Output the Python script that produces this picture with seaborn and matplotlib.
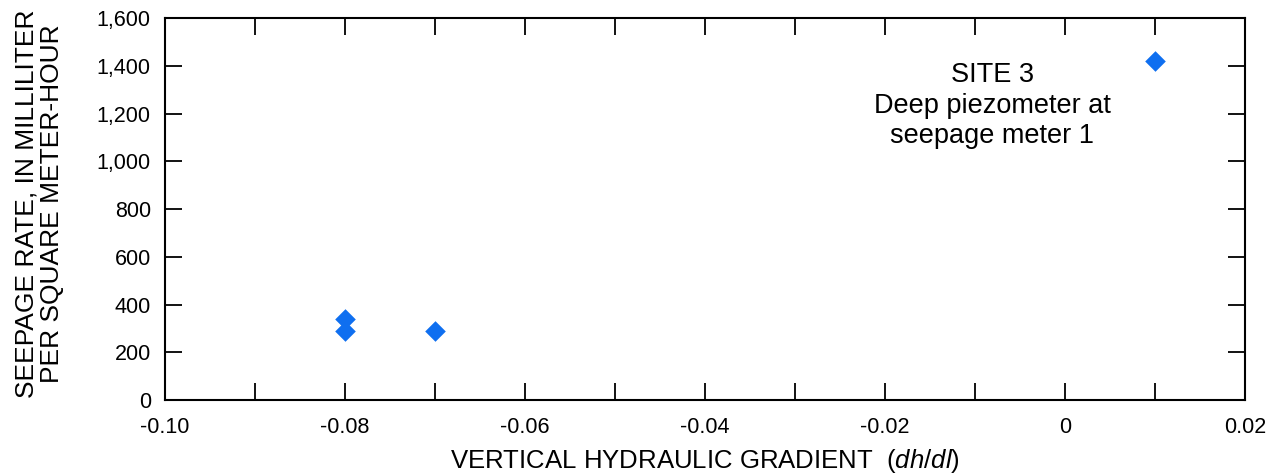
import matplotlib
matplotlib.use("Agg")
import matplotlib.pyplot as plt
import seaborn as sns
import pandas as pd
from matplotlib.ticker import MultipleLocator, FuncFormatter

# data
gradient = [-0.08, -0.08, -0.07, 0.01]
seepage = [340, 290, 290, 1420]

df = pd.DataFrame({"gradient": gradient, "seepage": seepage})

sns.set_style("ticks")
plt.rcParams['font.family'] = ['Liberation Sans', 'DejaVu Sans']
plt.rcParams['mathtext.fontset'] = 'custom'
plt.rcParams['mathtext.it'] = 'Liberation Sans:italic'
plt.rcParams['mathtext.rm'] = 'Liberation Sans'
plt.rcParams['text.color'] = 'black'
plt.rcParams['axes.labelcolor'] = 'black'
plt.rcParams['xtick.color'] = 'black'
plt.rcParams['ytick.color'] = 'black'

fig = plt.figure(figsize=(12.77, 4.74), dpi=100)
ax = fig.add_axes([0.129, 0.156, 0.846, 0.806])

sns.scatterplot(data=df, x="gradient", y="seepage", ax=ax,
                marker="D", s=110, color="#0f6ff0", edgecolor="#0f6ff0",
                linewidth=0, zorder=3)

ax.set_xlim(-0.10, 0.02)
ax.set_ylim(0, 1600)
ax.xaxis.set_major_locator(MultipleLocator(0.02))
ax.xaxis.set_minor_locator(MultipleLocator(0.01))
ax.yaxis.set_major_locator(MultipleLocator(200))
ax.xaxis.set_major_formatter(FuncFormatter(lambda v, p: "0" if abs(v) < 1e-9 else f"{v:.2f}"))
ax.yaxis.set_major_formatter(FuncFormatter(lambda v, p: f"{int(v):,}"))

ax.tick_params(which="both", direction="in", top=True, right=True,
               length=12, width=1.3, color="black", labelsize=15.5)
ax.tick_params(axis="x", which="major", pad=12)
ax.tick_params(axis="y", which="major", pad=10)
for s in ax.spines.values():
    s.set_linewidth(1.5)
    s.set_color("black")

ax.set_xlabel("VERTICAL HYDRAULIC GRADIENT  ($\\it{dh/dl}$)", fontsize=18.5, labelpad=7)
ax.set_ylabel("SEEPAGE RATE, IN MILLILITER\nPER SQUARE METER-HOUR", fontsize=19,
              linespacing=1.1)
ax.yaxis.set_label_coords(-0.093, 0.515)

ax.text(-0.0081, 1415, "SITE 3\nDeep piezometer at\nseepage meter 1",
        ha="center", va="top", fontsize=19.5, linespacing=1.22)

fig.savefig("out.png", dpi=100)
